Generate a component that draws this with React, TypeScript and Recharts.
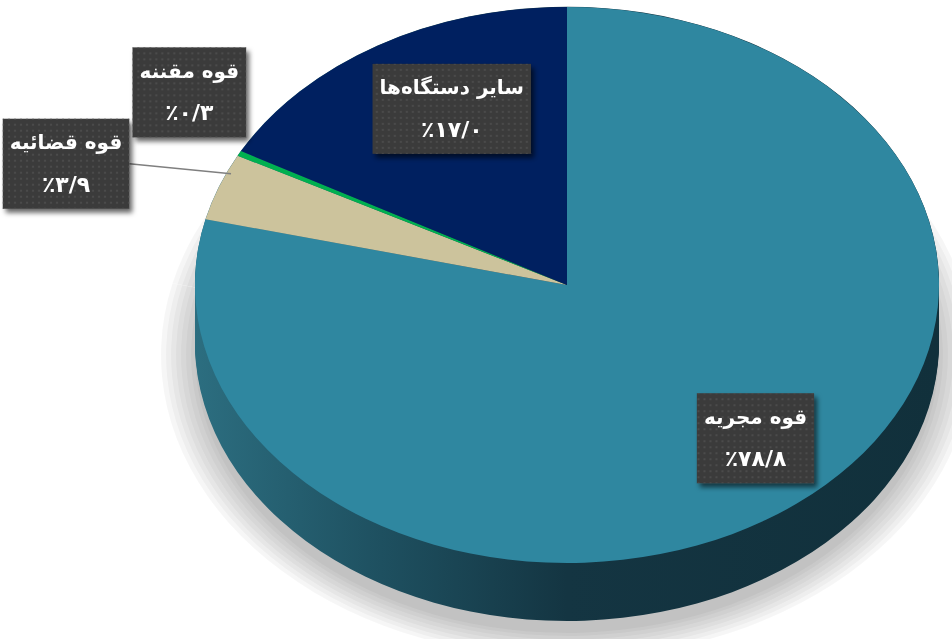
import React from 'react';
import { PieChart, Pie, Cell } from 'recharts';

// share of each branch (percent)
const categories = ['قوه مجریه', 'قوه قضائیه', 'قوه مقننه', 'سایر دستگاه‌ها'];
const shares = [78.8, 3.9, 0.3, 17.0];
const colors = ['#2F87A0', '#CCC39C', '#00B050', '#002060'];

const data = categories.map((name, i) => ({ name, value: shares[i] }));

const W = 952;
const H = 639;
const CX = 567;
const RX = 372;
const RY = 278;
const CY_SCREEN = 285;
const S = RY / RX; // vertical squash to fake the tilt
const CY = CY_SCREEN / S;
const SVG_H = H / S;
const DEPTH = 58 / S;
const STEP = 3;
const sideLayers = Array.from({ length: Math.ceil(DEPTH / STEP) + 1 }, (_, i) => DEPTH - i * STEP);
// stacked translucent rings give the soft grey shadow
const shadowRadii = [34, 29, 24, 19, 14, 9, 4, 0];

// where each label box sits: fraction of radius along mid angle, then a nudge in px
const LABEL_PLACE = [
  { k: 0.82, dx: 0, dy: -26, leader: false },
  { k: 1, dx: -153, dy: -23, leader: true },
  { k: 1, dx: -50, dy: -61, leader: false },
  { k: 0.64, dx: 6, dy: -23, leader: false },
];

const FONT = 'DejaVu Sans';
const FONT_SIZE = 20;
const NUM_SIZE = 22;

const faDigits = (s: string) =>
  s.replace(/[0-9]/g, (d) => '۰۱۲۳۴۵۶۷۸۹'[Number(d)]).replace('.', '/');

let canvasCtx: CanvasRenderingContext2D | null = null;
const measure = (t: string, size: number) => {
  if (!canvasCtx) canvasCtx = document.createElement('canvas').getContext('2d');
  if (!canvasCtx) return t.length * 10;
  canvasCtx.font = `bold ${size}px "${FONT}"`;
  return canvasCtx.measureText(t).width;
};

const renderLabel = (props: any) => {
  const { cx, cy, midAngle, outerRadius, index } = props;
  const p = LABEL_PLACE[index];
  const rad = (-midAngle * Math.PI) / 180;
  const ax = cx + outerRadius * p.k * Math.cos(rad);
  const ay = (cy + outerRadius * p.k * Math.sin(rad)) * S;
  const bx = ax + p.dx;
  const by = ay + p.dy;
  const line1 = categories[index];
  const line2 = '٪' + faDigits(shares[index].toFixed(1));
  const w = Math.max(measure(line1, FONT_SIZE), measure(line2, NUM_SIZE)) + 14;
  const h = 90;
  return (
    <g transform={`scale(1 ${1 / S})`}>
      {p.leader && (
        <line x1={ax + 12} y1={ay - 13} x2={bx + w / 2} y2={by} stroke="#7f7f7f" strokeWidth={1.5} />
      )}
      <g transform={`translate(${bx} ${by})`}>
        <rect x={-w / 2} y={-h / 2} width={w} height={h} fill="#3b3b3b" filter="url(#boxShadow)" />
        <rect x={-w / 2} y={-h / 2} width={w} height={h} fill="url(#dots)" />
        <text
          x={0}
          y={-20}
          textAnchor="middle"
          dominantBaseline="middle"
          fill="#ffffff"
          fontFamily={FONT}
          fontWeight="bold"
          fontSize={FONT_SIZE}
        >
          {line1}
        </text>
        <text
          x={0}
          y={22}
          textAnchor="middle"
          dominantBaseline="middle"
          fill="#ffffff"
          fontFamily={FONT}
          fontWeight="bold"
          fontSize={NUM_SIZE}
        >
          {line2}
        </text>
      </g>
    </g>
  );
};

export default function App() {
  return (
    <div style={{ position: 'absolute', left: 0, top: 0, width: W, height: H, overflow: 'hidden', background: '#fff' }}>
      <svg width={0} height={0} style={{ position: 'absolute' }}>
        <defs>
          <linearGradient id="sideGrad" gradientUnits="userSpaceOnUse" x1={CX - RX} y1={0} x2={CX + RX} y2={0}>
            <stop offset="0%" stopColor="#2C6E80" />
            <stop offset="25%" stopColor="#1E5060" />
            <stop offset="50%" stopColor="#143542" />
            <stop offset="100%" stopColor="#11303B" />
          </linearGradient>
          <filter id="boxShadow" x="-20%" y="-20%" width="140%" height="140%">
            <feDropShadow dx="3" dy="4" stdDeviation="2.5" floodColor="#000" floodOpacity="0.6" />
          </filter>
          <pattern id="dots" patternUnits="userSpaceOnUse" width="6" height="6">
            <circle cx="3" cy="3" r="1.1" fill="#4e4e4e" />
          </pattern>
        </defs>
      </svg>
      <div style={{ transform: `scaleY(${S})`, transformOrigin: '0 0' }}>
        <PieChart width={W} height={SVG_H} margin={{ top: 0, right: 0, bottom: 0, left: 0 }}>
          {shadowRadii.map((extra) => (
            <Pie
              key={`shadow-${extra}`}
              data={data}
              dataKey="value"
              cx={CX}
              cy={CY + 70 / S}
              outerRadius={RX + extra}
              startAngle={90}
              endAngle={-270}
              stroke="none"
              isAnimationActive={false}
            >
              {data.map((_, i) => (
                <Cell key={`sh-${i}`} fill="#000000" fillOpacity={0.035} />
              ))}
            </Pie>
          ))}
          {sideLayers.map((off) => (
            <Pie
              key={`side-${off}`}
              data={data}
              dataKey="value"
              cx={CX}
              cy={CY + off}
              outerRadius={RX}
              startAngle={90}
              endAngle={-270}
              stroke="none"
              isAnimationActive={false}
            >
              {data.map((_, i) => (
                <Cell key={`sd-${i}`} fill="url(#sideGrad)" />
              ))}
            </Pie>
          ))}
          <Pie
            data={data}
            dataKey="value"
            cx={CX}
            cy={CY}
            outerRadius={RX}
            startAngle={90}
            endAngle={-270}
            stroke="none"
            isAnimationActive={false}
            label={renderLabel}
            labelLine={false}
          >
            {data.map((_, i) => (
              <Cell key={`top-${i}`} fill={colors[i]} />
            ))}
          </Pie>
        </PieChart>
      </div>
    </div>
  );
}
